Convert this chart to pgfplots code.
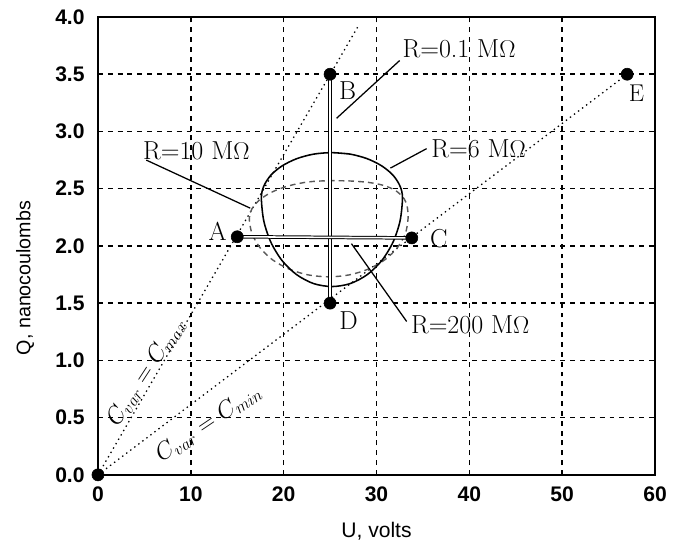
\documentclass[border=0pt]{standalone}
\usepackage{pgfplots}
\pgfplotsset{compat=1.18}
\usepackage{fontspec}
\newfontfamily\arial{Liberation Sans}
\newcommand\lab{\fontsize{18.5}{22}\selectfont}

\begin{document}
\begin{tikzpicture}
\begin{axis}[
  scale only axis, width=13.93cm, height=11.45cm,
  xmin=0, xmax=60, ymin=0, ymax=4,
  xtick={0,10,20,30,40,50,60},
  ytick={0,0.5,1,1.5,2,2.5,3,3.5,4},
  /pgf/number format/assume math mode=true,
  tick label style={font=\fontsize{15}{17}\selectfont\arial\bfseries},
  xticklabel style={yshift=-5pt},
  yticklabel style={xshift=-6pt, /pgf/number format/fixed, /pgf/number format/fixed zerofill, /pgf/number format/precision=1},
  tick style={draw=none},
  grid=major,
  major grid style={black, line width=1.1pt, dash pattern=on 3.5pt off 3.5pt},
  axis line style={black, line width=1.4pt},
  xlabel={U, volts}, ylabel={Q, nanocoulombs},
  xlabel style={font=\fontsize{15}{17}\selectfont\arial, at={(axis description cs:0.5,-0.122)}, anchor=center},
  ylabel style={font=\fontsize{14}{16}\selectfont\arial, at={(axis description cs:-0.131,0.43)}, anchor=center},
  clip=false,
]
% C_var = C_max and C_var = C_min
\addplot[black, line width=0.9pt, dash pattern=on 1pt off 2.6pt] coordinates {(0,0) (28.1,3.93)};
\addplot[black, line width=0.9pt, dash pattern=on 1pt off 2.6pt] coordinates {(0,0) (57,3.5)};

% R = 10 MOhm (dashed loop)
\addplot[black!65, line width=1pt, dash pattern=on 4pt off 3pt, smooth] coordinates {
  (24.85,2.57) (26.99,2.568) (29.13,2.555) (30.84,2.527) (32.12,2.48) (32.97,2.413)
  (33.31,2.342) (33.40,2.24) (33.11,2.108) (32.25,1.985) (30.90,1.879) (29.13,1.798)
  (27.06,1.747) (24.85,1.73) (22.64,1.747) (20.58,1.798) (18.80,1.879) (17.45,1.985)
  (16.59,2.108) (16.30,2.24) (16.59,2.325) (17.45,2.405) (18.80,2.473) (20.58,2.526)
  (22.64,2.559) (24.85,2.57) (26.99,2.568)};

% R = 6 MOhm (solid loop)
\addplot[black, line width=1.1pt, smooth] coordinates {
  (25.2,2.815) (27.17,2.802) (29.0,2.762) (30.57,2.699) (31.78,2.618) (32.54,2.522)
  (32.8,2.42) (32.54,2.219) (31.78,2.033) (30.57,1.872) (29.0,1.749) (27.17,1.671)
  (25.2,1.645) (23.23,1.671) (21.4,1.749) (19.83,1.872) (18.62,2.033) (17.86,2.219)
  (17.6,2.42) (17.86,2.522) (18.62,2.618) (19.83,2.699) (21.4,2.762) (23.23,2.802)
  (25.2,2.815) (27.17,2.802)};

% R = 0.1 MOhm and R = 200 MOhm
\addplot[black, line width=0.7pt, double=white, double distance=1.1pt] coordinates {(25,3.5) (25,1.5)};
\addplot[black, line width=0.7pt, double=white, double distance=1.1pt] coordinates {(15,2.08) (33.8,2.07)};

% leader lines
\addplot[black, line width=0.9pt] coordinates {(25.7,3.115) (32.5,3.62)};
\addplot[black, line width=0.9pt] coordinates {(31.5,2.68) (35.4,2.85)};
\addplot[black, line width=0.9pt] coordinates {(5.2,2.75) (16.4,2.33)};
\addplot[black, line width=0.9pt] coordinates {(27.3,2.02) (33.25,1.34)};

% operating points
\addplot[only marks, mark=*, mark size=4.3pt, black] coordinates {(0,0) (15,2.08) (25,3.5) (33.8,2.07) (25,1.5) (57,3.5)};

\node[font=\lab] at (axis cs:38.9,3.725) {R=0.1 M$\Omega$};
\node[font=\lab] at (axis cs:41.0,2.85) {R=6 M$\Omega$};
\node[font=\lab] at (axis cs:10.6,2.83) {R=10 M$\Omega$};
\node[font=\lab] at (axis cs:40.1,1.31) {R=200 M$\Omega$};

\node[font=\lab] at (axis cs:12.9,2.13) {A};
\node[font=\lab] at (axis cs:26.9,3.355) {B};
\node[font=\lab] at (axis cs:36.7,2.06) {C};
\node[font=\lab] at (axis cs:27.0,1.35) {D};
\node[font=\LARGE] at (axis cs:58.0,3.33) {E};

\node[font=\LARGE, rotate=57] at (axis cs:5.2,0.90) {$C_{var}=C_{max}$};
\node[font=\LARGE, rotate=34] at (axis cs:11.9,0.45) {$C_{var}=C_{min}$};
\end{axis}
\path (-2.45cm,-1.625cm) rectangle (14.68cm,11.875cm);
\end{tikzpicture}
\end{document}
